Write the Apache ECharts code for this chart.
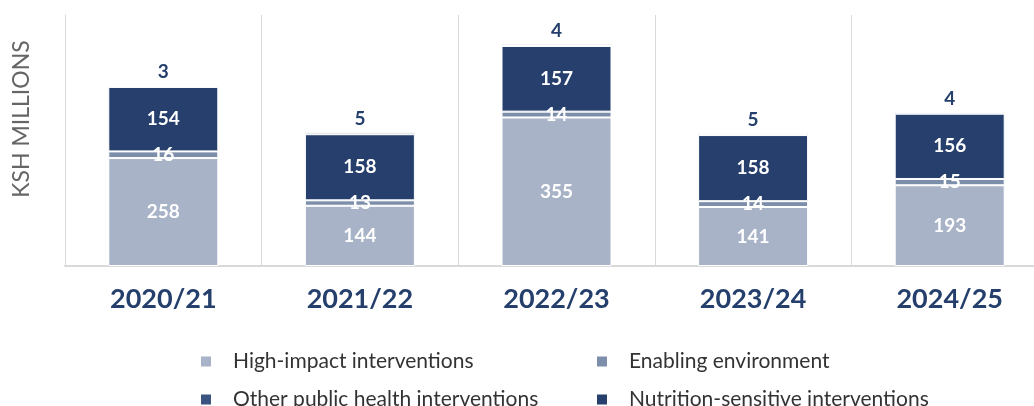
<!DOCTYPE html>
<html>
<head>
<meta charset="utf-8">
<script src="https://cdn.jsdelivr.net/npm/echarts@6/dist/echarts.min.js"></script>
<style>
  html, body { margin: 0; padding: 0; background: #fff; }
  #main { width: 1034px; height: 406px; }
</style>
</head>
<body>
<div id="main"></div>
<script>
// data (KSH millions)
var years = ['2020/21', '2021/22', '2022/23', '2023/24', '2024/25'];
var highImpact = [258, 144, 355, 141, 193];
var enabling = [16, 13, 14, 14, 15];
var nutritionSensitive = [154, 158, 157, 158, 156];
var otherPublicHealth = [3, 5, 4, 5, 4];

var colors = {
  high: '#a8b3c7',
  enabling: '#7d8eaa',
  other: '#3b5381',
  nutrition: '#263f6c'
};
var navy = '#243f6b';
var font = 'Lato, "Open Sans", sans-serif';

var chartDom = document.getElementById('main');
var myChart = echarts.init(chartDom);

function innerLabel() {
  return {
    show: true,
    position: 'inside',
    color: '#fff',
    fontFamily: font,
    fontWeight: 'bold',
    fontSize: 19
  };
}

function legendAt(name, left, top) {
  return {
    data: [name],
    left: left,
    top: top,
    icon: 'rect',
    itemWidth: 12,
    itemHeight: 12,
    selectedMode: false,
    textStyle: {
      fontFamily: font,
      fontSize: 21,
      color: '#333',
      padding: [0, 0, 0, 16]
    }
  };
}

var option = {
  animation: false,
  grid: {
    left: 65,
    width: 983,
    top: 15,
    bottom: 140,
    containLabel: false,
    outerBoundsMode: 'none'
  },
  legend: [
    legendAt('High-impact interventions', 194, 346),
    legendAt('Enabling environment', 590, 346),
    legendAt('Other public health interventions', 194, 384),
    legendAt('Nutrition-sensitive interventions', 590, 384)
  ],
  graphic: [{
    type: 'text',
    x: 22,
    y: 119,
    rotation: Math.PI / 2,
    style: {
      text: 'KSH MILLIONS',
      fontFamily: font,
      fontSize: 23,
      fill: '#666',
      align: 'center',
      verticalAlign: 'middle'
    }
  }],
  xAxis: {
    type: 'category',
    data: years,
    axisTick: { show: false },
    axisLine: { lineStyle: { color: '#d9d9d9', width: 2 } },
    splitLine: { show: true, lineStyle: { color: '#d9d9d9', width: 1 } },
    axisLabel: {
      margin: 20,
      color: navy,
      fontFamily: font,
      fontWeight: 'bold',
      fontSize: 27
    }
  },
  yAxis: {
    type: 'value',
    min: 0,
    max: 600,
    axisLabel: { show: false },
    axisTick: { show: false },
    splitLine: { show: false },
    axisLine: { show: true, lineStyle: { color: '#d9d9d9', width: 1 } }
  },
  series: [
    {
      name: 'High-impact interventions',
      type: 'bar',
      stack: 'total',
      barWidth: 110,
      data: highImpact,
      itemStyle: { color: colors.high, borderColor: '#fff', borderWidth: 1 },
      label: innerLabel()
    },
    {
      name: 'Enabling environment',
      type: 'bar',
      stack: 'total',
      data: enabling,
      itemStyle: { color: colors.enabling, borderColor: '#fff', borderWidth: 1 },
      label: innerLabel()
    },
    {
      name: 'Nutrition-sensitive interventions',
      type: 'bar',
      stack: 'total',
      data: nutritionSensitive,
      itemStyle: { color: colors.nutrition, borderColor: '#fff', borderWidth: 1 },
      label: innerLabel()
    },
    {
      name: 'Other public health interventions',
      type: 'bar',
      stack: 'total',
      data: otherPublicHealth,
      itemStyle: { color: colors.other, borderColor: '#fff', borderWidth: 1 },
      label: {
        show: true,
        position: 'top',
        distance: 4,
        color: navy,
        fontFamily: font,
        fontWeight: 'bold',
        fontSize: 19
      }
    }
  ]
};

myChart.setOption(option);
</script>
</body>
</html>
